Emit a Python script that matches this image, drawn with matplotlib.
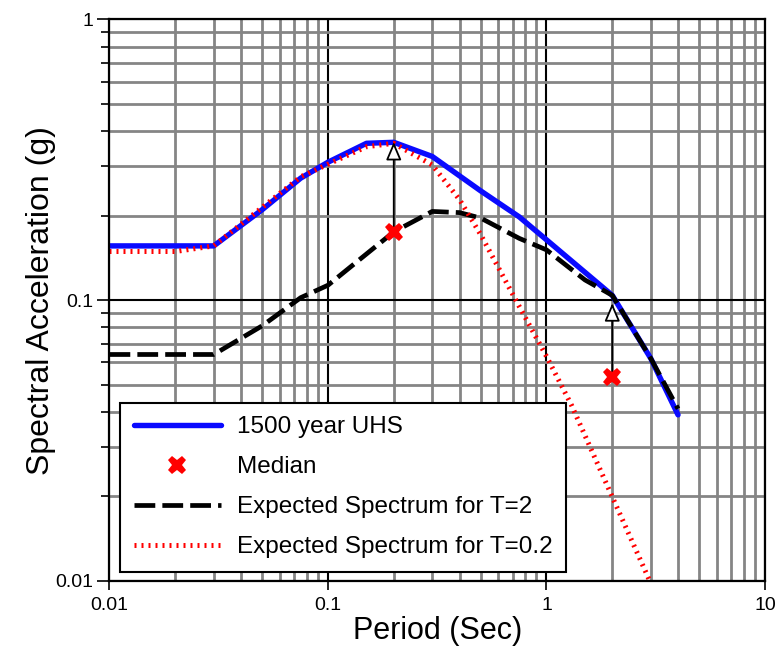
import matplotlib
matplotlib.use('Agg')
import matplotlib.pyplot as plt
from matplotlib.ticker import FixedLocator, FixedFormatter, LogLocator, NullFormatter
from matplotlib.lines import Line2D

plt.rcParams['font.family'] = ['Liberation Sans', 'DejaVu Sans']

# ---- data ----
uhs_T = [0.01, 0.02, 0.03, 0.05, 0.075, 0.1, 0.15, 0.2, 0.3, 0.5, 0.75, 1.0, 2.0, 3.0, 4.0]
uhs_SA = [0.156, 0.156, 0.156, 0.21, 0.272, 0.31, 0.362, 0.365, 0.325, 0.245, 0.198, 0.164, 0.104, 0.062, 0.039]

t2_T = [0.01, 0.02, 0.03, 0.05, 0.075, 0.1, 0.15, 0.2, 0.3, 0.4, 0.5, 0.75, 1.0, 1.5, 2.0, 3.0, 4.0]
t2_SA = [0.064, 0.064, 0.064, 0.081, 0.102, 0.113, 0.146, 0.175, 0.207, 0.205, 0.196, 0.166, 0.151, 0.118, 0.104, 0.062, 0.041]

t02_T = [0.01, 0.02, 0.03, 0.05, 0.075, 0.1, 0.15, 0.2, 0.3, 0.4, 0.5, 0.75, 1.0, 1.3, 2.0, 3.0]
t02_SA = [0.149, 0.149, 0.156, 0.214, 0.275, 0.305, 0.352, 0.362, 0.303, 0.228, 0.171, 0.095, 0.063, 0.0423, 0.0199, 0.0098]

median_T = [0.2, 2.0]
median_SA = [0.175, 0.0533]
arrow_tip_SA = [0.366, 0.0975]

xtick_vals = [0.01, 0.1, 1, 10]
xtick_labels = ['0.01', '0.1', '1', '10']
ytick_vals = [0.01, 0.1, 1]
ytick_labels = ['0.01', '0.1', '1']

series_labels = ['1500 year UHS', 'Median', 'Expected Spectrum for T=2', 'Expected Spectrum for T=0.2']

BLUE = '#0a0aff'
DASH = (0, (4.4, 1.5))
DOT = (0, (0.4, 1.0))

# ---- figure ----
fig = plt.figure(figsize=(7.76, 6.49), dpi=100)
ax = fig.add_axes([0.1411, 0.1052, 0.8447, 0.8648])
ax.set_xscale('log')
ax.set_yscale('log')
ax.set_xlim(0.01, 10)
ax.set_ylim(0.01, 1)

ax.xaxis.set_major_locator(FixedLocator(xtick_vals))
ax.xaxis.set_major_formatter(FixedFormatter(xtick_labels))
ax.yaxis.set_major_locator(FixedLocator(ytick_vals))
ax.yaxis.set_major_formatter(FixedFormatter(ytick_labels))
ax.xaxis.set_minor_locator(LogLocator(base=10, subs=range(2, 10)))
ax.yaxis.set_minor_locator(LogLocator(base=10, subs=range(2, 10)))
ax.xaxis.set_minor_formatter(NullFormatter())
ax.yaxis.set_minor_formatter(NullFormatter())

ax.grid(which='minor', color='#858585', lw=2.0, zorder=0)
ax.grid(which='major', color='black', lw=1.5, zorder=0.5)
ax.set_axisbelow(True)

ax.tick_params(axis='x', which='major', direction='out', length=6.5, width=1.2, pad=5, labelsize=14)
ax.tick_params(axis='x', which='minor', length=0)
ax.tick_params(axis='y', which='major', direction='out', length=9, width=1.2, pad=2.5, labelsize=14)
ax.tick_params(axis='y', which='minor', direction='out', length=6, width=1.2)
for s in ax.spines.values():
    s.set_linewidth(1.6)
    s.set_zorder(3)

ax.plot(uhs_T, uhs_SA, color=BLUE, lw=3.9, solid_capstyle='round', zorder=2)
ax.plot(t2_T, t2_SA, color='black', lw=3.4, linestyle=DASH, dash_capstyle='butt', zorder=2.2)
ax.plot(t02_T, t02_SA, color='red', lw=3.6, linestyle=DOT, dash_capstyle='butt', zorder=2.4)

for T, m, tip in zip(median_T, median_SA, arrow_tip_SA):
    ax.annotate('', xy=(T, tip), xytext=(T, m),
                arrowprops=dict(arrowstyle='-|>,head_length=1.1,head_width=0.47',
                                fc='white', ec='black', lw=1.3, shrinkA=0, shrinkB=0),
                zorder=2.6)
ax.plot(median_T, median_SA, linestyle='none', marker='X', ms=13, color='red', mew=0, zorder=2.8)

ax.set_xlabel('Period (Sec)', fontsize=22, labelpad=2)
ax.set_ylabel('Spectral Acceleration (g)', fontsize=23, labelpad=0)

handles = [
    Line2D([], [], color=BLUE, lw=3.9, solid_capstyle='round'),
    Line2D([], [], linestyle='none', marker='X', ms=13, color='red', mew=0),
    Line2D([], [], color='black', lw=3.4, linestyle=DASH, dash_capstyle='butt'),
    Line2D([], [], color='red', lw=3.6, linestyle=DOT, dash_capstyle='butt'),
]
leg = ax.legend(handles, series_labels, loc='lower left', bbox_to_anchor=(0.016, 0.016),
                borderaxespad=0, fontsize=17.5, fancybox=False, framealpha=1,
                edgecolor='black', handlelength=3.58, handletextpad=0.66,
                labelspacing=0.74, borderpad=0.56, facecolor='white')
leg.get_frame().set_linewidth(1.5)
leg.set_zorder(5)

fig.savefig('out.png', dpi=100)
